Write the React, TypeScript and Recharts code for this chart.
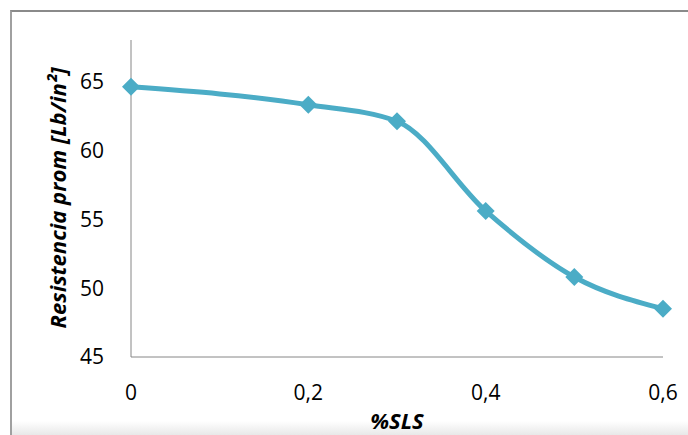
import React from 'react';
import { LineChart, Line, XAxis, YAxis, Label } from 'recharts';

// %SLS vs average resistance
const slsPercent = [0, 0.2, 0.3, 0.4, 0.5, 0.6];
const resistance = [64.6, 63.3, 62.1, 55.6, 50.8, 48.5];
const xTicks = [0, 0.2, 0.4, 0.6];
const yTicks = [45, 50, 55, 60, 65];

const data = slsPercent.map((x, i) => ({ x, y: resistance[i] }));

const LINE_COLOR = '#4BACC6';
const AXIS_COLOR = '#868686';
const FONT = '"Open Sans", "DejaVu Sans", sans-serif';

const Diamond = (props: any) => {
  const { cx, cy, index } = props;
  if (cx == null || cy == null) return null;
  const r = 9;
  return (
    <path
      key={`dot-${index}`}
      d={`M${cx},${cy - r} L${cx + r},${cy} L${cx},${cy + r} L${cx - r},${cy} Z`}
      fill={LINE_COLOR}
    />
  );
};

const fmt = (v: number) => String(v).replace('.', ',');

const App: React.FC = () => {
  return (
    <div style={{ position: 'absolute', left: 0, top: 0, width: 688, height: 435, background: '#fff', overflow: 'hidden' }}>
      <div
        style={{
          position: 'absolute',
          left: 10,
          top: 10,
          width: 700,
          height: 440,
          borderTop: '2px solid #8a8a8a',
          borderLeft: '2px solid #a0a0a0',
        }}
      />
      <div
        style={{
          position: 'absolute',
          left: 12,
          top: 421,
          width: 680,
          height: 14,
          background: 'linear-gradient(#ffffff, #e8e8e8)',
        }}
      />
      <LineChart
        width={688}
        height={435}
        data={data}
        margin={{ top: 40, right: 25, bottom: 38, left: 71 }}
        style={{ position: 'absolute', left: 0, top: 0 }}
      >
        <XAxis
          dataKey="x"
          type="number"
          domain={[0, 0.6]}
          ticks={xTicks}
          tickFormatter={fmt}
          height={40}
          tickLine={false}
          tickSize={0}
          tickMargin={28}
          stroke={AXIS_COLOR}
          tick={{ fill: '#000', fontSize: 21, fontFamily: FONT }}
        >
          <Label
            content={(p: any) => (
              <text
                x={p.viewBox.x + p.viewBox.width / 2}
                y={429}
                textAnchor="middle"
                fontFamily={FONT}
                fontSize={22}
                fontWeight="bold"
                fontStyle="italic"
                fill="#000"
              >
                %SLS
              </text>
            )}
          />
        </XAxis>
        <YAxis
          type="number"
          domain={[45, 68]}
          ticks={yTicks}
          width={60}
          tickLine={false}
          tickSize={0}
          tickMargin={27}
          stroke={AXIS_COLOR}
          tick={{ fill: '#000', fontSize: 21, fontFamily: FONT }}
          allowDataOverflow
        >
          <Label
            content={() => (
              <text
                x={66}
                y={198}
                transform="rotate(-90 66 198)"
                textAnchor="middle"
                fontFamily={FONT}
                fontSize={22}
                fontWeight="bold"
                fontStyle="italic"
                fill="#000"
              >
                Resistencia prom [Lb/in²]
              </text>
            )}
          />
        </YAxis>
        <Line
          dataKey="y"
          type="monotone"
          stroke={LINE_COLOR}
          strokeWidth={5}
          dot={Diamond}
          activeDot={false}
          isAnimationActive={false}
        />
      </LineChart>
    </div>
  );
};

export default App;
